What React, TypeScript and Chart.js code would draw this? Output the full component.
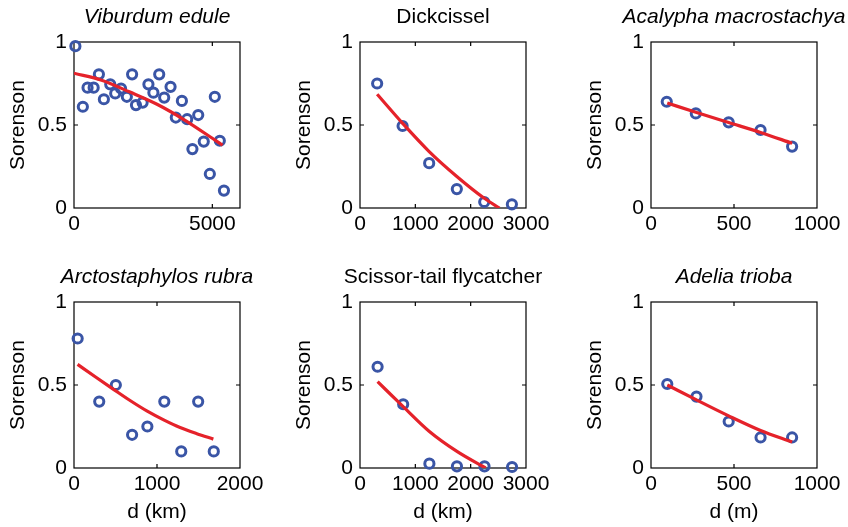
import React, { useEffect, useRef } from "react";
import { Chart, registerables } from "chart.js";

Chart.register(...registerables);

const FONT = "'Liberation Sans', Arial, Helvetica, sans-serif";
const FSIZE = 21;
const BLUE = "#3a55a6";
const RED = "#e5222a";

// ---- Data ----
// Viburdum edule
const viburdumX = [50, 320, 490, 710, 900, 1080, 1310, 1490, 1700, 1910, 2100, 2240, 2480, 2690, 2870, 3080, 3260, 3490, 3680, 3900, 4090, 4280, 4490, 4690, 4910, 5090, 5270, 5420];
const viburdumY = [0.975, 0.61, 0.725, 0.725, 0.805, 0.655, 0.745, 0.69, 0.72, 0.67, 0.805, 0.62, 0.635, 0.745, 0.695, 0.805, 0.665, 0.73, 0.545, 0.645, 0.535, 0.355, 0.56, 0.4, 0.205, 0.67, 0.405, 0.105];
const viburdumFitX = [0, 1000, 2000, 3000, 4000, 5000, 5370];
const viburdumFitY = [0.812, 0.77, 0.70, 0.625, 0.53, 0.42, 0.378];

// Dickcissel
const dickcisselX = [310, 770, 1250, 1750, 2245, 2745];
const dickcisselY = [0.75, 0.494, 0.27, 0.114, 0.036, 0.022];
const dickcisselFitX = [310, 770, 1250, 1750, 2240, 2520];
const dickcisselFitY = [0.685, 0.51, 0.34, 0.19, 0.06, 0.0];

// Acalypha macrostachya
const acalyphaX = [95, 270, 468, 660, 850];
const acalyphaY = [0.64, 0.57, 0.516, 0.47, 0.37];
const acalyphaFitX = [98, 270, 468, 660, 850];
const acalyphaFitY = [0.632, 0.577, 0.515, 0.455, 0.39];

// Arctostaphylos rubra
const arctoX = [44, 304, 504, 700, 884, 1088, 1292, 1496, 1684];
const arctoY = [0.78, 0.40, 0.50, 0.20, 0.25, 0.40, 0.10, 0.40, 0.10];
const arctoFitX = [43, 260, 476, 680, 877, 1080, 1278, 1480, 1679];
const arctoFitY = [0.624, 0.548, 0.474, 0.405, 0.344, 0.29, 0.244, 0.207, 0.174];

// Scissor-tail flycatcher
const scissorX = [318, 780, 1254, 1752, 2250, 2748];
const scissorY = [0.61, 0.384, 0.026, 0.01, 0.01, 0.006];
const scissorFitX = [318, 780, 1254, 1752, 2270];
const scissorFitY = [0.52, 0.37, 0.22, 0.10, 0.0];

// Adelia trioba
const adeliaX = [98, 274, 468, 660, 850];
const adeliaY = [0.506, 0.43, 0.28, 0.184, 0.184];
const adeliaFitX = [98, 274, 468, 660, 850];
const adeliaFitY = [0.50, 0.41, 0.314, 0.226, 0.156];

// ---- Ticks ----
const yTickValues = [0, 0.5, 1];
const yTickLabels = ["0", "0.5", "1"];
const xTicks5000 = [0, 5000];
const xLabels5000 = ["0", "5000"];
const xTicks3000 = [0, 1000, 2000, 3000];
const xLabels3000 = ["0", "1000", "2000", "3000"];
const xTicks2000 = [0, 1000, 2000];
const xLabels2000 = ["0", "1000", "2000"];
const xTicks1000 = [0, 500, 1000];
const xLabels1000 = ["0", "500", "1000"];

const yTitle = "Sorenson";

type PanelDef = {
  title: string;
  italic: boolean;
  xs: number[];
  ys: number[];
  fx: number[];
  fy: number[];
  xMax: number;
  xTicks: number[];
  xLabels: string[];
  xTitle: string | null;
  left: number;
  top: number;
  height: number;
};

const panels: PanelDef[] = [
  { title: "Viburdum edule", italic: true, xs: viburdumX, ys: viburdumY, fx: viburdumFitX, fy: viburdumFitY, xMax: 6000, xTicks: xTicks5000, xLabels: xLabels5000, xTitle: null, left: 0, top: 0, height: 240 },
  { title: "Dickcissel", italic: false, xs: dickcisselX, ys: dickcisselY, fx: dickcisselFitX, fy: dickcisselFitY, xMax: 3000, xTicks: xTicks3000, xLabels: xLabels3000, xTitle: null, left: 286, top: 0, height: 240 },
  { title: "Acalypha macrostachya", italic: true, xs: acalyphaX, ys: acalyphaY, fx: acalyphaFitX, fy: acalyphaFitY, xMax: 1000, xTicks: xTicks1000, xLabels: xLabels1000, xTitle: null, left: 577, top: 0, height: 240 },
  { title: "Arctostaphylos rubra", italic: true, xs: arctoX, ys: arctoY, fx: arctoFitX, fy: arctoFitY, xMax: 2000, xTicks: xTicks2000, xLabels: xLabels2000, xTitle: "d (km)", left: 0, top: 260, height: 267 },
  { title: "Scissor-tail flycatcher", italic: false, xs: scissorX, ys: scissorY, fx: scissorFitX, fy: scissorFitY, xMax: 3000, xTicks: xTicks3000, xLabels: xLabels3000, xTitle: "d (km)", left: 286, top: 260, height: 267 },
  { title: "Adelia trioba", italic: true, xs: adeliaX, ys: adeliaY, fx: adeliaFitX, fy: adeliaFitY, xMax: 1000, xTicks: xTicks1000, xLabels: xLabels1000, xTitle: "d (m)", left: 577, top: 260, height: 267 },
];

const CANVAS_W = 270;
const PLOT_TOP = 42;
const PLOT_H = 166;
const Y_AXIS_W = 74;

function Panel({ p }: { p: PanelDef }) {
  const ref = useRef<HTMLCanvasElement | null>(null);

  useEffect(() => {
    if (!ref.current) return;

    const boxPlugin = {
      id: "matlabBox",
      beforeDatasetsDraw(chart: any) {
        const { ctx, chartArea } = chart;
        const { left, right, top, bottom } = chartArea;
        const xs = chart.scales.x;
        const ys = chart.scales.y;
        const tl = 4;
        ctx.save();
        ctx.strokeStyle = "#000";
        ctx.lineWidth = 1.2;
        ctx.strokeRect(left, top, right - left, bottom - top);
        ctx.beginPath();
        p.xTicks.forEach((v) => {
          const px = xs.getPixelForValue(v);
          if (px <= left + 1 || px >= right - 1) return;
          ctx.moveTo(px, bottom);
          ctx.lineTo(px, bottom - tl);
          ctx.moveTo(px, top);
          ctx.lineTo(px, top + tl);
        });
        yTickValues.forEach((v) => {
          const py = ys.getPixelForValue(v);
          if (py <= top + 1 || py >= bottom - 1) return;
          ctx.moveTo(left, py);
          ctx.lineTo(left + tl, py);
          ctx.moveTo(right, py);
          ctx.lineTo(right - tl, py);
        });
        ctx.stroke();
        ctx.restore();
      },
    };

    const titlePlugin = {
      id: "panelTitle",
      afterDraw(chart: any) {
        const { ctx, chartArea } = chart;
        ctx.save();
        ctx.font = `${p.italic ? "italic " : ""}${FSIZE}px ${FONT}`;
        ctx.fillStyle = "#000";
        ctx.textAlign = "center";
        ctx.textBaseline = "middle";
        ctx.fillText(p.title, (chartArea.left + chartArea.right) / 2, chartArea.top - 24.8);
        ctx.restore();
      },
    };

    const xHeight = p.height - PLOT_TOP - PLOT_H;

    const chart = new Chart(ref.current, {
      type: "scatter",
      data: {
        datasets: [
          {
            type: "line",
            data: p.fx.map((x, i) => ({ x, y: p.fy[i] })),
            borderColor: RED,
            borderWidth: 3.2,
            pointRadius: 0,
            cubicInterpolationMode: "monotone",
            fill: false,
            order: 0,
          } as any,
          {
            type: "scatter",
            data: p.xs.map((x, i) => ({ x, y: p.ys[i] })),
            borderColor: BLUE,
            backgroundColor: "rgba(0,0,0,0)",
            borderWidth: 3,
            pointRadius: 4.6,
            pointHoverRadius: 4.6,
            clip: false,
            order: 1,
          } as any,
        ],
      },
      options: {
        animation: false,
        responsive: false,
        maintainAspectRatio: false,
        events: [],
        layout: { padding: { top: PLOT_TOP, left: 0, right: 30, bottom: 0 } },
        plugins: {
          legend: { display: false },
          tooltip: { enabled: false },
          title: { display: false },
        },
        scales: {
          x: {
            type: "linear",
            min: 0,
            max: p.xMax,
            grid: { display: false, drawTicks: false },
            border: { display: false },
            ticks: {
              padding: 4,
              color: "#000",
              font: { family: FONT, size: FSIZE },
              maxRotation: 0,
              autoSkip: false,
              callback: (v: any) => {
                const i = p.xTicks.indexOf(Number(v));
                return i >= 0 ? p.xLabels[i] : "";
              },
            },
            afterBuildTicks: (s: any) => {
              s.ticks = p.xTicks.map((v) => ({ value: v }));
            },
            afterFit: (s: any) => {
              s.height = xHeight;
            },
            title: {
              display: !!p.xTitle,
              text: p.xTitle || "",
              color: "#000",
              font: { family: FONT, size: FSIZE },
              padding: { top: 0, bottom: 2 },
            },
          },
          y: {
            type: "linear",
            min: 0,
            max: 1,
            grid: { display: false, drawTicks: false },
            border: { display: false },
            ticks: {
              padding: 7,
              color: "#000",
              font: { family: FONT, size: FSIZE },
              autoSkip: false,
              callback: (v: any) => {
                const i = yTickValues.indexOf(Number(v));
                return i >= 0 ? yTickLabels[i] : "";
              },
            },
            afterBuildTicks: (s: any) => {
              s.ticks = yTickValues.map((v) => ({ value: v }));
            },
            afterFit: (s: any) => {
              s.width = Y_AXIS_W;
            },
            title: {
              display: true,
              text: yTitle,
              color: "#000",
              font: { family: FONT, size: FSIZE },
              padding: { top: 5.5, bottom: 0 },
            },
          },
        },
      } as any,
      plugins: [boxPlugin, titlePlugin],
    });

    return () => chart.destroy();
  }, [p]);

  return (
    <canvas
      ref={ref}
      width={CANVAS_W}
      height={p.height}
      style={{ position: "absolute", left: p.left, top: p.top, width: CANVAS_W, height: p.height }}
    />
  );
}

export default function App() {
  return (
    <div
      style={{
        position: "fixed",
        left: 0,
        top: 0,
        width: 848,
        height: 527,
        background: "#fff",
        overflow: "hidden",
      }}
    >
      {panels.map((p, i) => (
        <Panel key={i} p={p} />
      ))}
    </div>
  );
}
